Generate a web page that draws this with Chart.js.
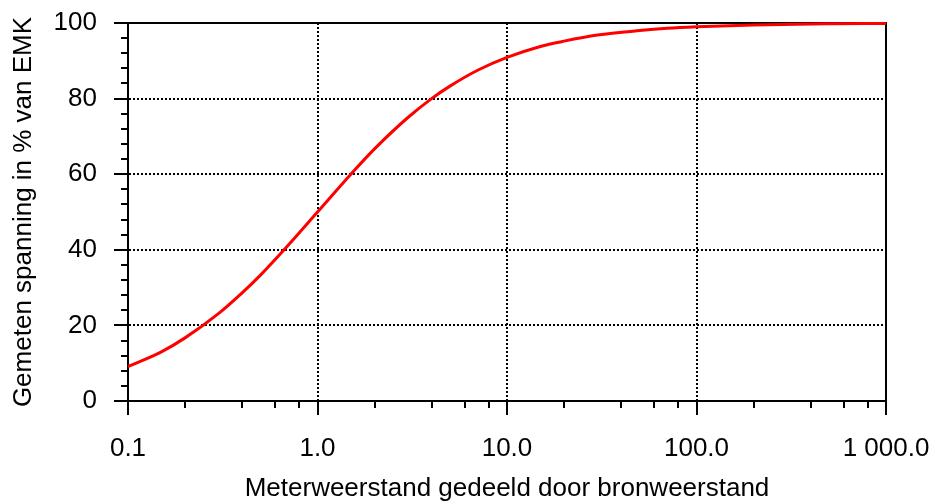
<!DOCTYPE html>
<html>
<head>
<meta charset="utf-8">
<script src="https://cdn.jsdelivr.net/npm/chart.js@4/dist/chart.umd.min.js"></script>
<style>
    html, body { margin: 0; padding: 0; background: #fff; }
    #wrap { width: 931px; height: 501px; }
</style>
</head>
<body>
<div id="wrap"><canvas id="curve-chart"></canvas></div>
<script>
const ratioValues = [0.1, 0.15, 0.2, 0.3, 0.4, 0.5, 0.7, 1.0, 1.5, 2, 3, 4, 5, 7, 10, 15, 20, 30, 50, 70, 100, 200, 500, 1000];
const voltagePct = [9.1, 13.0, 16.7, 23.1, 28.6, 33.3, 41.2, 50.0, 60.0, 66.7, 75.0, 80.0, 83.3, 87.5, 90.9, 93.8, 95.2, 96.8, 98.0, 98.6, 99.0, 99.5, 99.8, 99.9];

// As-indeling
const xTickValues = [0.1, 1, 10, 100, 1000];
const xTickLabels = ['0.1', '1.0', '10.0', '100.0', '1 000.0'];
const xMinorFactors = [2, 4, 6, 8];
const yTickValues = [0, 20, 40, 60, 80, 100];
const yMinorStep = 4;

const fontFamily = '"Liberation Sans", Arial, Helvetica, sans-serif';
const textColor = '#000000';

const xAllTicks = [];
xTickValues.forEach((v, i) => {
    xAllTicks.push(v);
    if (i < xTickValues.length - 1) xMinorFactors.forEach(f => xAllTicks.push(v * f));
});
const yAllTicks = [];
for (let v = 0; v <= 100; v += yMinorStep) yAllTicks.push(v);

const isMajorX = (v) => xTickValues.some(t => Math.abs(t - v) < 1e-9);
const isMajorY = (v) => yTickValues.includes(v);

/**
 * Kader en kleine streepjes
 */
const framePlugin = {
    id: 'frame',
    beforeDatasetsDraw(chart) {
        const { ctx, chartArea: a, scales } = chart;
        ctx.save();
        ctx.strokeStyle = '#000';
        ctx.lineWidth = 2;
        ctx.strokeRect(a.left, a.top, a.right - a.left, a.bottom - a.top);

        ctx.beginPath();
        xAllTicks.filter(v => !isMajorX(v)).forEach(v => {
            const px = Math.round(scales.x.getPixelForValue(v));
            ctx.moveTo(px, a.bottom);
            ctx.lineTo(px, a.bottom + 7);
        });
        yAllTicks.filter(v => !isMajorY(v)).forEach(v => {
            const py = Math.round(scales.y.getPixelForValue(v));
            ctx.moveTo(a.left, py);
            ctx.lineTo(a.left - 7, py);
        });
        ctx.stroke();
        ctx.restore();
    }
};

const ctx = document.getElementById('curve-chart').getContext('2d');
new Chart(ctx, {
    type: 'line',
    data: {
        datasets: [{
            data: ratioValues.map((x, i) => ({ x: x, y: voltagePct[i] })),
            borderColor: '#ff0000',
            borderWidth: 3,
            pointRadius: 0,
            cubicInterpolationMode: 'monotone',
            fill: false,
            clip: 3
        }]
    },
    options: {
        responsive: true,
        maintainAspectRatio: false,
        animation: false,
        layout: { padding: { left: 0, top: 23, right: 45, bottom: 0 } },
        plugins: {
            legend: { display: false },
            tooltip: { enabled: false }
        },
        scales: {
            x: {
                type: 'logarithmic',
                min: 0.1,
                max: 1000,
                afterBuildTicks: (scale) => { scale.ticks = xAllTicks.map(v => ({ value: v })); },
                afterFit: (scale) => {
                    scale.height = 100;
                    scale.paddingLeft = 0;
                    scale.paddingRight = 0;
                },
                grid: {
                    color: (c) => (c.tick && isMajorX(c.tick.value)) ? '#000' : 'rgba(0,0,0,0)',
                    tickColor: (c) => (c.tick && isMajorX(c.tick.value)) ? '#000' : 'rgba(0,0,0,0)',
                    lineWidth: 2,
                    tickWidth: 2,
                    tickLength: 14
                },
                border: { display: true, color: '#000', width: 2, dash: [2, 2] },
                ticks: {
                    autoSkip: false,
                    maxRotation: 0,
                    padding: 18,
                    color: textColor,
                    font: { family: fontFamily, size: 26 },
                    callback: (value) => {
                        const i = xTickValues.findIndex(t => Math.abs(t - value) < 1e-9);
                        return i >= 0 ? xTickLabels[i] : '';
                    }
                },
                title: {
                    display: true,
                    text: 'Meterweerstand gedeeld door bronweerstand',
                    color: textColor,
                    font: { family: fontFamily, size: 26 },
                    padding: { top: 0, bottom: -3 }
                }
            },
            y: {
                min: 0,
                max: 100,
                afterBuildTicks: (scale) => { scale.ticks = yAllTicks.map(v => ({ value: v })); },
                afterFit: (scale) => {
                    scale.width = 128;
                    scale.paddingTop = 0;
                    scale.paddingBottom = 0;
                },
                grid: {
                    color: (c) => (c.tick && isMajorY(c.tick.value)) ? '#000' : 'rgba(0,0,0,0)',
                    tickColor: (c) => (c.tick && isMajorY(c.tick.value)) ? '#000' : 'rgba(0,0,0,0)',
                    lineWidth: 2,
                    tickWidth: 2,
                    tickLength: 14
                },
                border: { display: true, color: '#000', width: 2, dash: [2, 2] },
                ticks: {
                    autoSkip: false,
                    padding: 17,
                    color: textColor,
                    font: { family: fontFamily, size: 26 },
                    callback: (value) => isMajorY(value) ? String(value) : ''
                },
                title: {
                    display: true,
                    text: 'Gemeten spanning in % van EMK',
                    color: textColor,
                    font: { family: fontFamily, size: 26 },
                    padding: { top: 8, bottom: 0 }
                }
            }
        }
    },
    plugins: [framePlugin]
});
</script>
</body>
</html>
